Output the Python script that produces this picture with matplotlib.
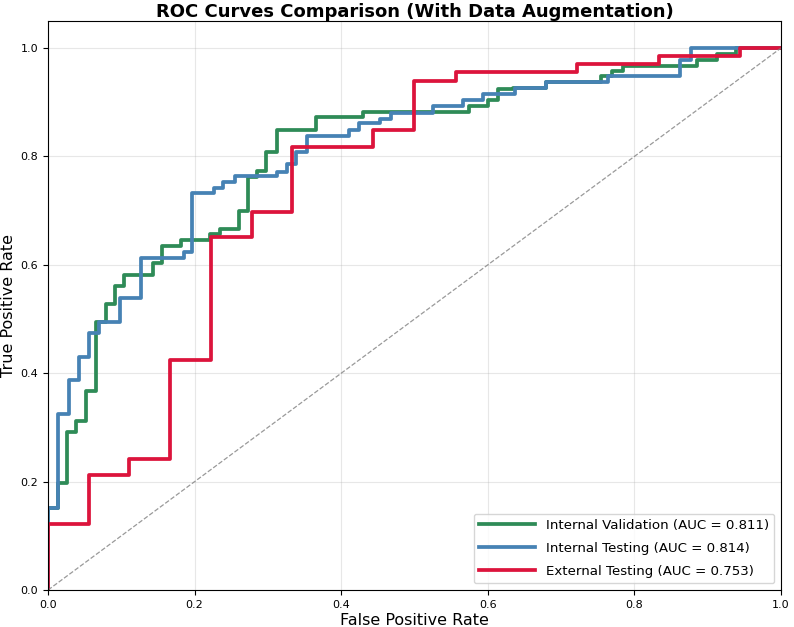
import matplotlib
matplotlib.use("Agg")
import matplotlib.pyplot as plt

# Internal Validation
val_fpr = [0, 0, 0.0136, 0.0255, 0.0387, 0.052, 0.065, 0.079, 0.091, 0.103, 0.143, 0.156,
           0.182, 0.221, 0.235, 0.260, 0.273, 0.285, 0.298, 0.312, 0.366, 0.430, 0.574,
           0.601, 0.614, 0.635, 0.679, 0.755, 0.769, 0.784, 0.885, 0.913, 0.939, 1.0]
val_tpr = [0, 0.151, 0.197, 0.292, 0.312, 0.367, 0.495, 0.528, 0.561, 0.581, 0.603, 0.635,
           0.646, 0.657, 0.667, 0.700, 0.763, 0.774, 0.809, 0.849, 0.872, 0.883, 0.894,
           0.904, 0.924, 0.926, 0.937, 0.948, 0.957, 0.967, 0.978, 0.989, 1.0, 1.0]

# Internal Testing
test_fpr = [0, 0, 0.0136, 0.028, 0.042, 0.056, 0.070, 0.098, 0.127, 0.185, 0.197, 0.226,
            0.239, 0.255, 0.312, 0.326, 0.338, 0.354, 0.411, 0.424, 0.453, 0.468, 0.525,
            0.566, 0.594, 0.637, 0.679, 0.764, 0.863, 0.877, 1.0]
test_tpr = [0, 0.151, 0.324, 0.387, 0.430, 0.475, 0.495, 0.538, 0.613, 0.624, 0.732, 0.741,
            0.752, 0.764, 0.772, 0.787, 0.809, 0.838, 0.849, 0.861, 0.870, 0.881, 0.893,
            0.904, 0.915, 0.926, 0.937, 0.948, 0.978, 1.0, 1.0]

# External Testing
ext_fpr = [0, 0, 0.056, 0.111, 0.167, 0.222, 0.278, 0.333, 0.444, 0.500, 0.556, 0.722,
           0.833, 0.944, 1.0]
ext_tpr = [0, 0.121, 0.212, 0.242, 0.424, 0.652, 0.697, 0.818, 0.848, 0.939, 0.955, 0.970,
           0.985, 1.0, 1.0]

labels = ["Internal Validation (AUC = 0.811)",
          "Internal Testing (AUC = 0.814)",
          "External Testing (AUC = 0.753)"]
colors = ["#2E8B57", "#4682B4", "#DC143C"]

fig = plt.figure(figsize=(7.94, 6.27), dpi=100)
ax = fig.add_axes([0.0605, 0.059, 0.923, 0.9075])

for fx, ty, lab, c in zip([val_fpr, test_fpr, ext_fpr], [val_tpr, test_tpr, ext_tpr], labels, colors):
    ax.step(fx, ty, where="post", color=c, lw=2.7, label=lab)

ax.plot([0, 1], [0, 1], linestyle="--", color="gray", lw=0.9, alpha=0.8)

ax.set_xlim(0, 1.0)
ax.set_ylim(0, 1.05)
ax.set_xlabel("False Positive Rate", fontsize=11.5, labelpad=2)
ax.set_ylabel("True Positive Rate", fontsize=11.5, labelpad=3)
ax.set_title("ROC Curves Comparison (With Data Augmentation)", fontsize=13, fontweight="bold", pad=3)
ax.tick_params(labelsize=8)
ax.grid(True, alpha=0.3)
ax.legend(loc="lower right", fontsize=9.6, handlelength=4.2, labelspacing=0.75)

fig.savefig("out.png", dpi=100)
